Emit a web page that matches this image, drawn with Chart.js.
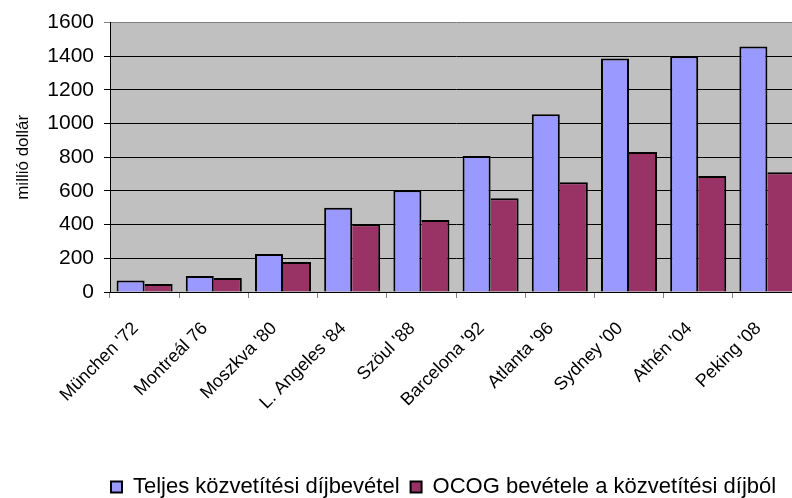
<!DOCTYPE html>
<html><head><meta charset="utf-8">
<script src="https://cdn.jsdelivr.net/npm/chart.js@4"></script>
<style>
html,body{margin:0;padding:0;background:#fff;overflow:hidden;width:792px;height:498px}
#wrap{position:relative;width:888px;height:498px}
</style></head>
<body><div id="wrap"><canvas id="c"></canvas></div>
<script>
const categories = ["München '72", "Montreál 76", "Moszkva '80", "L. Angeles '84", "Szöul '88", "Barcelona '92", "Atlanta '96", "Sydney '00", "Athén '04", "Peking '08"];
const totalRevenue = [69, 95, 225, 500, 604, 808, 1055, 1387, 1400, 1458];
const ocogRevenue = [47, 83, 178, 403, 427, 557, 652, 832, 689, 711];
const yTicks = [0, 200, 400, 600, 800, 1000, 1200, 1400, 1600];
const seriesNames = ["Teljes közvetítési díjbevétel", "OCOG bevétele a közvetítési díjból"];
const yTitle = "millió dollár";

const FONT = "'Liberation Sans', Arial, sans-serif";

const decor = {
  id: 'decor',
  beforeDraw(chart) {
    const {ctx, chartArea: a} = chart;
    ctx.save();
    ctx.fillStyle = '#c0c0c0';
    ctx.fillRect(a.left, a.top, a.right - a.left, a.bottom - a.top);
    ctx.restore();
    const lg = chart.legend;
    if (lg) {
      const w = lg.width, h = lg.height;
      lg.left = 100; lg.right = lg.left + w;
      lg.top = 465; lg.bottom = lg.top + h;
    }
  }
};

new Chart(document.getElementById('c'), {
  type: 'bar',
  data: {
    labels: categories,
    datasets: [
      { label: seriesNames[0], data: totalRevenue, backgroundColor: '#9999ff', borderColor: '#000', borderWidth: 2, barPercentage: 1, categoryPercentage: 0.81 },
      { label: seriesNames[1], data: ocogRevenue, backgroundColor: '#993366', borderColor: '#000', borderWidth: {top: 2, right: 2, bottom: 0, left: 0}, barPercentage: 1, categoryPercentage: 0.81 }
    ]
  },
  options: {
    responsive: true,
    maintainAspectRatio: false,
    animation: false,
    layout: { padding: { left: 0, right: 86, top: 22, bottom: 0 } },
    plugins: {
      tooltip: { enabled: false },
      legend: {
        position: 'bottom',
        align: 'start',
        labels: {
          font: { size: 22, family: FONT },
          color: '#000',
          boxWidth: 11,
          boxHeight: 11,
          padding: 11,
          generateLabels(chart) {
            const items = Chart.defaults.plugins.legend.labels.generateLabels(chart);
            items.forEach(it => { it.lineWidth = 2; it.strokeStyle = '#000'; });
            return items;
          }
        }
      }
    },
    scales: {
      x: {
        grid: { drawOnChartArea: false, drawTicks: true, tickLength: 6, color: '#808080', offset: true },
        border: { color: '#000', width: 1 },
        ticks: { autoSkip: false, maxRotation: 45, minRotation: 45, font: { size: 18, family: FONT }, color: '#000', padding: 20, labelOffset: -9 },
        afterFit(s) { const lh = s.chart.legend ? s.chart.legend.height : 0; s.height = 206 - lh; }
      },
      y: {
        min: 0, max: 1600,
        afterBuildTicks(s) { s.ticks = yTicks.map(v => ({ value: v })); },
        ticks: { font: { size: 21, family: FONT }, color: '#000', padding: 10, callback: v => String(v) },
        grid: { color: c => (c.tick && c.tick.value === 1600) ? '#808080' : '#000', lineWidth: 1, tickLength: 6, drawTicks: true },
        border: { color: '#000', width: 1 },
        title: { display: true, text: yTitle, font: { size: 17, family: FONT }, color: '#000', padding: { top: 13, bottom: 0 } },
        afterFit(s) { s.width = 110; }
      }
    }
  },
  plugins: [decor]
});
</script>
</body></html>
